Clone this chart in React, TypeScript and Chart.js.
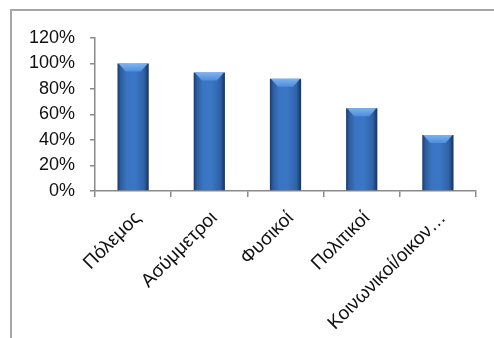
import React, { useEffect, useRef } from "react";
import { Chart, registerables } from "chart.js";

Chart.register(...registerables);

const categories = ["Πόλεμος", "Ασύμμετροι", "Φυσικοί", "Πολιτικοί", "Κοινωνικοί/οικον…"];
const values = [100, 93, 88, 65, 44];
const yMax = 120;
const yStep = 20;

const FONT = "'Liberation Sans', Arial, sans-serif";
const BAR_PCT = 0.41;

const bevelPlugin = {
  id: "bevel",
  afterDatasetsDraw(chart: any) {
    const ctx = chart.ctx;
    const meta = chart.getDatasetMeta(0);
    meta.data.forEach((bar: any) => {
      const { x, y, width } = bar.getProps(["x", "y", "width"], true);
      const l = x - width / 2;
      const r = x + width / 2;
      const d = Math.min(8, width / 3);
      ctx.save();
      const g = ctx.createLinearGradient(0, y, 0, y + d);
      g.addColorStop(0, "#7db3ef");
      g.addColorStop(1, "#4f8ddc");
      ctx.fillStyle = g;
      ctx.beginPath();
      ctx.moveTo(l + 1, y);
      ctx.lineTo(r - 1, y);
      ctx.lineTo(r - d, y + d);
      ctx.lineTo(l + d, y + d);
      ctx.closePath();
      ctx.fill();
      ctx.restore();
    });
  },
};

export default function App() {
  const ref = useRef<HTMLCanvasElement | null>(null);

  useEffect(() => {
    if (!ref.current) return;
    const chart = new Chart(ref.current, {
      type: "bar",
      data: {
        labels: categories,
        datasets: [
          {
            data: values,
            backgroundColor: (c: any) => {
              const ch = c.chart;
              const xs = ch.scales?.x;
              if (!xs || !ch.chartArea) return "#3a72bf";
              const cx = xs.getPixelForValue(c.dataIndex);
              const half = (xs.width / categories.length) * BAR_PCT / 2;
              const g = ch.ctx.createLinearGradient(cx - half, 0, cx + half, 0);
              g.addColorStop(0, "#1b3a68");
              g.addColorStop(0.1, "#2c5d9f");
              g.addColorStop(0.3, "#3a74c2");
              g.addColorStop(0.55, "#3b77c6");
              g.addColorStop(0.85, "#2f63a8");
              g.addColorStop(1, "#16325c");
              return g;
            },
            borderWidth: 0,
            categoryPercentage: 1,
            barPercentage: BAR_PCT,
          },
        ],
      },
      options: {
        animation: false,
        responsive: false,
        maintainAspectRatio: false,
        layout: { padding: { top: 38, right: 18, left: 0, bottom: 0 } },
        plugins: {
          legend: { display: false },
          tooltip: { enabled: false },
        },
        scales: {
          x: {
            grid: {
              display: true,
              drawOnChartArea: false,
              drawTicks: true,
              tickLength: 6,
              color: "#8a8a8a",
              lineWidth: 1.5,
              offset: true,
            },
            border: { color: "#8a8a8a", width: 1.5 },
            ticks: {
              color: "#111",
              font: { family: FONT, size: 19 },
              minRotation: 45,
              maxRotation: 45,
              autoSkip: false,
              padding: 10,
              labelOffset: 5,
            },
            afterFit: (s: any) => {
              s.height = 147;
            },
          },
          y: {
            min: 0,
            max: yMax,
            grid: {
              display: true,
              drawOnChartArea: false,
              drawTicks: true,
              tickLength: 5,
              color: "#8a8a8a",
              lineWidth: 1.5,
            },
            border: { color: "#8a8a8a", width: 1.5 },
            ticks: {
              stepSize: yStep,
              color: "#111",
              font: { family: FONT, size: 18 },
              padding: 15,
              callback: (v: any) => v + "%",
            },
            afterFit: (s: any) => {
              s.width = 95;
            },
          },
        },
      },
      plugins: [bevelPlugin],
    });
    return () => chart.destroy();
  }, []);

  return (
    <div style={{ position: "fixed", left: 0, top: 0, width: 494, height: 338, background: "#fff", overflow: "hidden" }}>
      <div
        style={{
          position: "absolute",
          left: 10,
          top: 9,
          width: 500,
          height: 340,
          border: "2px solid #a6a6a6",
          boxSizing: "border-box",
        }}
      />
      <canvas ref={ref} width={494} height={338} style={{ position: "absolute", left: 0, top: 0 }} />
    </div>
  );
}
